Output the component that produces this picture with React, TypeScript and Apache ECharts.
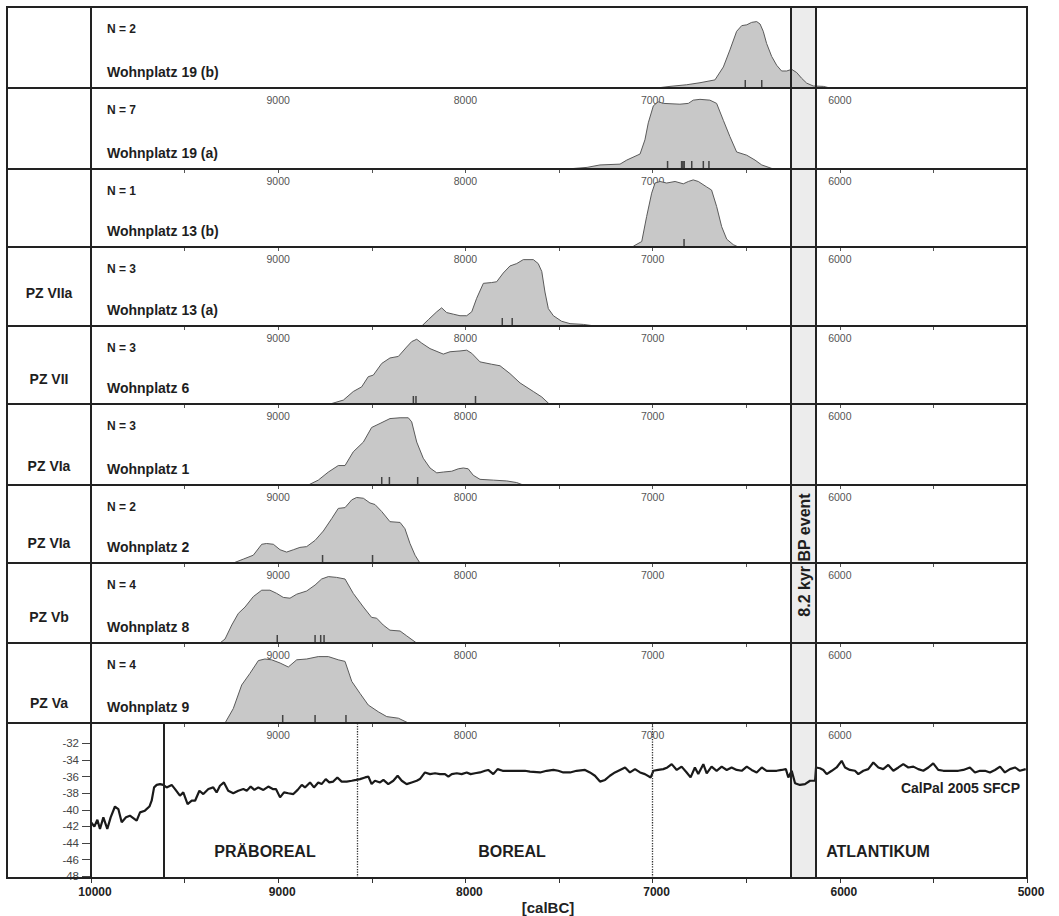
import React, { useEffect, useRef } from "react";
import * as echarts from "echarts";

// ---------- DATA ----------
const siteNames = [
  "Wohnplatz 19 (b)", "Wohnplatz 19 (a)", "Wohnplatz 13 (b)", "Wohnplatz 13 (a)",
  "Wohnplatz 6", "Wohnplatz 1", "Wohnplatz 2", "Wohnplatz 8", "Wohnplatz 9",
];
const siteN = [2, 7, 1, 3, 3, 3, 2, 4, 4];
const pollenZones = ["", "", "", "PZ VIIa", "PZ VII", "PZ VIa", "PZ VIa", "PZ Vb", "PZ Va"];

// summed calibrated probability (relative density, 0..1) : [calBC, density]
const wp19b: [number, number][] = [
  [6978, 0], [6907, 0.02], [6818, 0.04], [6747, 0.065], [6667, 0.1], [6622, 0.26], [6587, 0.47],
  [6551, 0.7], [6524, 0.77], [6497, 0.78], [6471, 0.81], [6444, 0.82], [6426, 0.79], [6409, 0.7],
  [6391, 0.55], [6364, 0.39], [6337, 0.28], [6311, 0.21], [6284, 0.21], [6257, 0.23], [6230, 0.19],
  [6204, 0.12], [6177, 0.06], [6142, 0.025], [6088, 0.02], [6052, 0],
];
const wp19a: [number, number][] = [
  [7457, 0], [7350, 0.02], [7281, 0.05], [7174, 0.06], [7138, 0.11], [7067, 0.185], [7041, 0.36],
  [7023, 0.57], [6996, 0.78], [6970, 0.83], [6943, 0.81], [6854, 0.8], [6809, 0.81], [6783, 0.85],
  [6747, 0.86], [6694, 0.85], [6658, 0.81], [6622, 0.6], [6587, 0.4], [6551, 0.21], [6497, 0.17],
  [6453, 0.11], [6417, 0.05], [6355, 0],
];
const wp13b: [number, number][] = [
  [7103, 0.01], [7058, 0.07], [7032, 0.39], [7005, 0.69], [6987, 0.82], [6960, 0.84], [6925, 0.82],
  [6880, 0.84], [6836, 0.81], [6809, 0.84], [6783, 0.86], [6756, 0.84], [6711, 0.77], [6685, 0.73],
  [6658, 0.52], [6631, 0.26], [6604, 0.1], [6569, 0.03], [6542, 0],
];
const wp13a: [number, number][] = [
  [8233, 0], [8198, 0.08], [8153, 0.18], [8127, 0.23], [8100, 0.17], [8065, 0.15], [8029, 0.13],
  [7993, 0.13], [7966, 0.18], [7940, 0.35], [7904, 0.54], [7860, 0.55], [7833, 0.56], [7798, 0.67],
  [7762, 0.76], [7726, 0.79], [7691, 0.84], [7637, 0.84], [7611, 0.79], [7592, 0.69], [7575, 0.43],
  [7557, 0.22], [7530, 0.13], [7486, 0.06], [7441, 0.03], [7370, 0.02], [7308, 0],
];
const wp6: [number, number][] = [
  [8723, 0], [8652, 0.05], [8599, 0.16], [8554, 0.22], [8519, 0.35], [8492, 0.37], [8447, 0.52],
  [8403, 0.59], [8358, 0.61], [8314, 0.73], [8287, 0.8], [8260, 0.83], [8233, 0.78], [8189, 0.71],
  [8118, 0.64], [8082, 0.67], [8029, 0.68], [7993, 0.69], [7966, 0.65], [7922, 0.54], [7860, 0.51],
  [7815, 0.49], [7762, 0.39], [7708, 0.27], [7637, 0.16], [7592, 0.09], [7552, 0],
];
const wp1: [number, number][] = [
  [8839, 0], [8786, 0.06], [8732, 0.16], [8679, 0.24], [8643, 0.24], [8599, 0.41], [8545, 0.53],
  [8501, 0.71], [8456, 0.76], [8403, 0.82], [8349, 0.83], [8305, 0.83], [8287, 0.78], [8260, 0.53],
  [8225, 0.33], [8189, 0.21], [8153, 0.15], [8118, 0.16], [8073, 0.17], [8038, 0.2], [8011, 0.21],
  [7985, 0.2], [7958, 0.12], [7922, 0.07], [7851, 0.06], [7779, 0.05], [7726, 0.03], [7691, 0],
];
const wp2: [number, number][] = [
  [9240, 0], [9186, 0.05], [9133, 0.1], [9088, 0.24], [9062, 0.25], [9026, 0.24], [8990, 0.17],
  [8955, 0.14], [8919, 0.17], [8884, 0.2], [8848, 0.21], [8803, 0.29], [8759, 0.41], [8714, 0.57],
  [8679, 0.7], [8643, 0.71], [8607, 0.81], [8581, 0.84], [8545, 0.83], [8510, 0.77], [8483, 0.75],
  [8447, 0.66], [8403, 0.53], [8349, 0.52], [8323, 0.44], [8296, 0.25], [8269, 0.1], [8243, 0],
];
const wp8: [number, number][] = [
  [9311, 0], [9284, 0.05], [9248, 0.225], [9213, 0.37], [9177, 0.45], [9133, 0.58], [9088, 0.66],
  [9044, 0.66], [9008, 0.62], [8973, 0.57], [8937, 0.56], [8901, 0.61], [8848, 0.65], [8803, 0.725],
  [8768, 0.8], [8732, 0.83], [8688, 0.82], [8643, 0.8], [8599, 0.62], [8545, 0.45], [8501, 0.32],
  [8474, 0.31], [8439, 0.225], [8403, 0.16], [8349, 0.15], [8314, 0.09], [8261, 0],
];
const wp9: [number, number][] = [
  [9284, 0], [9240, 0.18], [9195, 0.475], [9151, 0.62], [9106, 0.78], [9071, 0.8], [9035, 0.79],
  [8990, 0.75], [8946, 0.7], [8901, 0.79], [8848, 0.8], [8786, 0.83], [8732, 0.83], [8679, 0.79],
  [8643, 0.77], [8607, 0.52], [8563, 0.37], [8519, 0.225], [8465, 0.14], [8420, 0.08], [8358, 0.06],
  [8305, 0],
];

// individual 14C dates (calBC medians)
const wp19bDates = [6505, 6417];
const wp19aDates = [6920, 6845, 6838, 6831, 6791, 6729, 6699];
const wp13bDates = [6832];
const wp13aDates = [7803, 7750];
const wp6Dates = [8278, 8264, 7946];
const wp1Dates = [8447, 8406, 8255];
const wp2Dates = [8763, 8496];
const wp8Dates = [9005, 8803, 8773, 8755];
const wp9Dates = [8976, 8803, 8638];

const densities = [wp19b, wp19a, wp13b, wp13a, wp6, wp1, wp2, wp8, wp9];
const dates = [wp19bDates, wp19aDates, wp13bDates, wp13aDates, wp6Dates, wp1Dates, wp2Dates, wp8Dates, wp9Dates];

// CalPal 2005 SFCP curve : [calBC, value]
const calpal: [number, number][] = [
  [10000, -41.5], [9982, -42.0], [9966, -41.2], [9952, -42.3], [9934, -40.9], [9913, -42.3], [9895, -40.9],
  [9872, -39.6], [9854, -39.9], [9836, -41.5], [9813, -40.9], [9792, -40.7], [9774, -41.0], [9756, -41.3],
  [9738, -40.3], [9712, -40.1], [9688, -39.6], [9676, -38.9], [9663, -37.3], [9649, -37.0], [9631, -36.9],
  [9614, -37.0], [9596, -37.3], [9569, -37.0], [9551, -37.5], [9525, -38.3], [9507, -37.9], [9484, -39.3],
  [9462, -38.9], [9444, -38.9], [9421, -37.7], [9400, -38.1], [9373, -37.5], [9347, -37.3], [9329, -37.9],
  [9311, -37.1], [9290, -36.7], [9267, -37.7], [9240, -38.0], [9213, -37.7], [9186, -37.5], [9168, -37.7],
  [9147, -37.2], [9127, -37.6], [9106, -37.3], [9079, -37.6], [9053, -37.2], [9029, -37.5], [9012, -37.5],
  [8990, -38.5], [8969, -37.9], [8946, -38.0], [8919, -38.1], [8896, -37.6], [8874, -37.0], [8857, -37.3],
  [8830, -36.7], [8809, -37.3], [8786, -36.7], [8768, -36.9], [8746, -36.3], [8727, -36.7], [8706, -36.6],
  [8684, -36.1], [8661, -36.6], [8634, -36.6], [8607, -36.5], [8584, -36.4], [8563, -36.3], [8536, -36.1],
  [8518, -36.0], [8501, -36.9], [8483, -36.5], [8456, -36.7], [8438, -36.4], [8412, -36.9], [8385, -36.5],
  [8362, -35.9], [8340, -36.5], [8314, -36.9], [8287, -36.7], [8260, -36.5], [8243, -36.3], [8216, -35.5],
  [8189, -35.7], [8162, -35.6], [8136, -35.7], [8109, -35.7], [8091, -36.0], [8073, -35.7], [8046, -35.6],
  [8020, -35.7], [7993, -35.5], [7972, -35.7], [7949, -35.6], [7922, -35.5], [7895, -35.3], [7878, -35.2],
  [7851, -35.7], [7828, -35.1], [7801, -35.3], [7776, -35.3], [7744, -35.3], [7708, -35.3], [7682, -35.3],
  [7655, -35.4], [7601, -35.5], [7566, -35.3], [7530, -35.2], [7504, -35.3], [7477, -35.5], [7441, -35.5],
  [7406, -35.3], [7361, -35.2], [7335, -35.5], [7308, -35.9], [7281, -36.6], [7254, -36.4], [7228, -35.9],
  [7201, -35.5], [7174, -35.2], [7147, -34.9], [7121, -35.5], [7094, -35.1], [7067, -35.5], [7041, -35.7],
  [7010, -36.1], [6996, -35.3], [6970, -35.2], [6943, -35.1], [6921, -34.9], [6898, -34.5], [6871, -35.2],
  [6845, -34.8], [6818, -35.5], [6797, -36.1], [6774, -34.9], [6756, -35.7], [6729, -34.5], [6711, -35.6],
  [6685, -34.8], [6658, -35.3], [6631, -34.8], [6604, -35.2], [6578, -34.9], [6551, -35.2], [6524, -35.3],
  [6497, -34.8], [6471, -35.2], [6444, -35.5], [6417, -34.9], [6391, -35.3], [6364, -35.3], [6337, -35.3],
  [6311, -35.2], [6288, -35.1], [6275, -36.1], [6257, -35.3], [6239, -36.8], [6213, -37.0], [6186, -36.9],
  [6159, -36.5], [6132, -36.5], [6127, -34.9], [6106, -35.0], [6088, -35.2], [6070, -35.7], [6043, -35.3],
  [6017, -34.9], [5990, -34.1], [5972, -34.9], [5946, -35.2], [5919, -35.3], [5901, -35.7], [5874, -35.3],
  [5848, -35.1], [5821, -34.3], [5794, -34.9], [5768, -35.1], [5741, -34.6], [5714, -35.3], [5687, -34.9],
  [5661, -34.5], [5634, -34.9], [5607, -34.8], [5581, -35.1], [5554, -35.3], [5527, -34.9], [5501, -34.4],
  [5474, -35.2], [5447, -35.3], [5420, -35.3], [5394, -35.3], [5367, -35.3], [5340, -35.2], [5305, -34.9],
  [5278, -35.5], [5251, -35.3], [5224, -35.3], [5198, -35.5], [5171, -35.2], [5144, -34.8], [5118, -35.5],
  [5091, -35.1], [5064, -34.9], [5038, -35.3], [5007, -35.1],
];
const calpalTicks = [-48, -46, -44, -42, -40, -38, -36, -34, -32];

// event / period boundaries (calBC)
const event82Start = 6260;
const event82End = 6130;
const youngerDryasEnd = 9610;
const preborealEnd = 8580;
const borealEnd = 7000;

// ---------- LAYOUT ----------
const FONT = '"Liberation Sans", Arial, Helvetica, sans-serif';
const panelTops = [7, 88, 169, 247, 326, 404, 485, 563, 643, 723];
const panelBottoms = [88, 169, 247, 326, 404, 485, 563, 643, 723, 878];
const pzLabelY = [0, 0, 0, 293, 379, 466, 543, 617, 703];
const frameL = 7, plotL = 91, plotR = 1027;

function innerXAxis(i: number, show: boolean) {
  return {
    type: "value", gridIndex: i, min: 5000, max: 10000, inverse: true, position: "top", interval: 500,
    axisLine: { show: false }, splitLine: { show: false },
    axisTick: { show, inside: true, length: 4, lineStyle: { color: "#555", width: 1 } },
    axisLabel: {
      show, inside: true, margin: 6, color: "#555", fontSize: 10.5, fontFamily: FONT,
      formatter: (v: number) => (v % 1000 === 0 && v > 5000 && v < 10000 ? String(v) : ""),
    },
  };
}

function buildOption() {
  const grid: any[] = [];
  const xAxis: any[] = [];
  const yAxis: any[] = [];
  const series: any[] = [];
  for (let i = 0; i < 10; i++) {
    grid.push({ left: plotL, width: plotR - plotL, top: panelTops[i], height: panelBottoms[i] - panelTops[i] });
    xAxis.push(innerXAxis(i, i > 0));
    // band of 8.2 kyr event (below everything)
    series.push({
      type: "line", xAxisIndex: i, yAxisIndex: i, data: [], z: 1, silent: true,
      markArea: { silent: true, itemStyle: { color: "#ececec" }, data: [[{ xAxis: event82Start }, { xAxis: event82End }]] },
    });
  }
  for (let i = 0; i < 9; i++) {
    yAxis.push({ type: "value", gridIndex: i, min: 0, max: 1, show: false });
    series.push({
      type: "line", xAxisIndex: i, yAxisIndex: i, data: densities[i], symbol: "none", z: 2, silent: true,
      lineStyle: { color: "#5a5a5a", width: 1 }, areaStyle: { color: "#c8c8c8", opacity: 1 },
      markLine: {
        silent: true, symbol: "none", label: { show: false },
        lineStyle: { color: "#222", width: 2, type: "solid" },
        data: [{ xAxis: event82Start }, { xAxis: event82End }],
      },
    });
    series.push({
      type: "scatter", xAxisIndex: i, yAxisIndex: i, data: dates[i].map((d) => [d, 0]), z: 3, silent: true,
      symbol: "rect", symbolSize: [1.5, 8], symbolOffset: [0, -4], itemStyle: { color: "#222" },
    });
  }
  // bottom panel axes
  xAxis.push({
    type: "value", gridIndex: 9, min: 5000, max: 10000, inverse: true, position: "bottom", interval: 500,
    axisLine: { show: false }, splitLine: { show: false },
    axisTick: { show: true, inside: false, length: 5, lineStyle: { color: "#333", width: 1 } },
    axisLabel: {
      margin: 8, color: "#222", fontSize: 12, fontWeight: "bold", fontFamily: FONT, padding: [0, 0, 0, 8],
      formatter: (v: number) => (v % 1000 === 0 ? String(v) : ""),
    },
    name: "[calBC]", nameLocation: "middle", nameGap: 22,
    nameTextStyle: { fontSize: 15, fontWeight: "bold", color: "#222", fontFamily: FONT, padding: [0, 22, 0, 0] },
  });
  yAxis.push({
    type: "value", gridIndex: 9, min: -48.2, max: -29.55, position: "left",
    axisLine: { show: false }, splitLine: { show: false },
    axisTick: { show: true, length: 9, customValues: calpalTicks, lineStyle: { color: "#444", width: 1 } },
    axisLabel: { customValues: calpalTicks, color: "#444", fontSize: 11.5, margin: 12, fontFamily: FONT },
  });
  series.push({
    type: "line", xAxisIndex: 10, yAxisIndex: 9, data: calpal, symbol: "none", z: 2, silent: true,
    lineStyle: { color: "#1a1a1a", width: 2.2 },
    markLine: {
      silent: true, symbol: "none", label: { show: false },
      lineStyle: { color: "#222", width: 2, type: "solid" },
      data: [
        { xAxis: event82Start }, { xAxis: event82End }, { xAxis: youngerDryasEnd },
        { xAxis: preborealEnd, lineStyle: { type: "dotted", width: 1.3, color: "#333" } },
        { xAxis: borealEnd, lineStyle: { type: "dotted", width: 1.3, color: "#333" } },
      ],
    },
  });

  // frame + texts
  const graphic: any[] = [];
  const stroke = { stroke: "#222", lineWidth: 2 };
  graphic.push({ type: "rect", z: 100, silent: true, shape: { x: frameL, y: panelTops[0], width: plotR - frameL, height: panelBottoms[9] - panelTops[0] }, style: { fill: "none", ...stroke } });
  graphic.push({ type: "line", z: 100, silent: true, shape: { x1: plotL, y1: panelTops[0], x2: plotL, y2: panelBottoms[9] }, style: stroke });
  for (let i = 0; i < 9; i++) {
    graphic.push({ type: "line", z: 100, silent: true, shape: { x1: frameL, y1: panelBottoms[i], x2: plotR, y2: panelBottoms[i] }, style: stroke });
  }
  const txt = (text: string, x: number, y: number, size: number, align = "left", extra: any = {}) => ({
    type: "text", z: 101, silent: true, x, y, ...extra,
    style: { text, fill: "#1e1e1e", font: `bold ${size}px ${FONT}`, textAlign: align, textVerticalAlign: "middle" },
  });
  for (let i = 0; i < 9; i++) {
    graphic.push(txt(`N = ${siteN[i]}`, 107, panelTops[i] + 22, 12));
    graphic.push(txt(siteNames[i], 107, panelBottoms[i] - 16, 14));
    if (pollenZones[i]) graphic.push(txt(pollenZones[i], 49, pzLabelY[i], 14, "center"));
  }
  graphic.push(txt("PRÄBOREAL", 265, 851, 16, "center"));
  graphic.push(txt("BOREAL", 512, 851, 16, "center"));
  graphic.push(txt("ATLANTIKUM", 878, 851, 16, "center"));
  graphic.push(txt("CalPal 2005 SFCP", 1020, 788, 14, "right"));
  graphic.push(txt("8.2 kyr BP event", 804, 555, 16, "center", { rotation: Math.PI / 2 }));

  return {
    animation: false,
    backgroundColor: "#ffffff",
    textStyle: { fontFamily: FONT },
    grid, xAxis, yAxis, series, graphic,
  };
}

export default function App() {
  const ref = useRef<HTMLDivElement>(null);
  useEffect(() => {
    if (!ref.current) return;
    const chart = echarts.init(ref.current, null, { renderer: "svg" });
    chart.setOption(buildOption() as any);
    return () => chart.dispose();
  }, []);
  return (
    <div
      ref={ref}
      style={{ position: "fixed", left: 0, top: 0, width: 1059, height: 916, background: "#fff" }}
    />
  );
}
